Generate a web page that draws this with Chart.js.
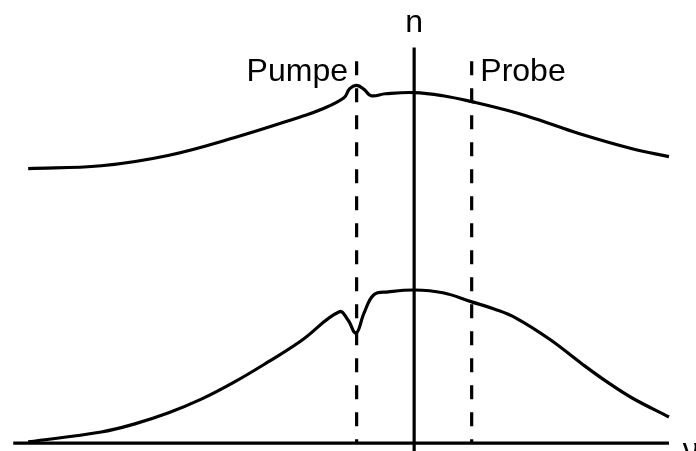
<!DOCTYPE html>
<html>
<head>
<meta charset="utf-8">
<script src="https://cdn.jsdelivr.net/npm/chart.js@4/dist/chart.umd.min.js"></script>
<style>
  html, body { margin: 0; padding: 0; background: #fff; }
  #wrap { width: 696px; height: 451px; position: relative; }
</style>
</head>
<body>
<div id="wrap"><canvas id="sketch"></canvas></div>
<script>
  // detuning (pump at -1, probe at +1) and arbitrary vertical units, axis at 0
  var upperX = [-6.71, -5.44, -4.28, -3.13, -1.97, -1.62, -1.22, -1.12, -1.00, -0.87, -0.75, -0.50, 0, 0.50, 1.00, 1.77, 2.35, 2.92, 3.79, 4.43];
  var upperY = [6.94, 7.01, 7.27, 7.72, 8.25, 8.43, 8.73, 8.96, 9.04, 8.94, 8.78, 8.83, 8.86, 8.78, 8.63, 8.35, 8.08, 7.80, 7.44, 7.24];

  var lowerX = [-6.71, -5.44, -4.87, -4.28, -3.70, -3.13, -2.54, -1.97, -1.30, -1.15, -1.01, -0.87, -0.70, -0.45, 0, 0.50, 1.00, 1.39, 1.77, 2.35, 2.92, 3.36, 3.79, 4.43];
  var lowerY = [0.03, 0.28, 0.48, 0.76, 1.11, 1.54, 2.05, 2.58, 3.32, 3.11, 2.78, 3.29, 3.75, 3.82, 3.87, 3.80, 3.57, 3.39, 3.16, 2.63, 2.00, 1.54, 1.14, 0.66];

  var pumpAt = -1;
  var probeAt = 1;
  var markerTop = 9.65;
  var axisLeft = -6.97;
  var axisRight = 4.43;
  var axisTop = 10.0;

  var labels = [
    { text: 'n', x: 0, y: 10.4, align: 'center' },
    { text: 'Pumpe', x: -1.15, y: 9.14, align: 'right' },
    { text: 'Probe', x: 1.15, y: 9.14, align: 'left' },
    { text: 'ν', x: 4.67, y: -0.43, align: 'left' }
  ];

  function pairs(xs, ys) {
    return xs.map(function (x, i) { return { x: x, y: ys[i] }; });
  }

  function line(data, extra) {
    var ds = {
      data: data,
      borderColor: '#000',
      borderWidth: 3.2,
      pointRadius: 0,
      fill: false,
      tension: 0
    };
    for (var k in extra) ds[k] = extra[k];
    return ds;
  }

  var labelPlugin = {
    id: 'textLabels',
    afterDatasetsDraw: function (chart) {
      var ctx = chart.ctx;
      var sx = chart.scales.x, sy = chart.scales.y;
      ctx.save();
      ctx.fillStyle = '#000';
      ctx.font = '32px "Liberation Sans", Arial, sans-serif';
      ctx.textBaseline = 'alphabetic';
      labels.forEach(function (l) {
        ctx.textAlign = l.align;
        ctx.fillText(l.text, sx.getPixelForValue(l.x), sy.getPixelForValue(l.y));
      });
      ctx.restore();
    }
  };

  new Chart(document.getElementById('sketch'), {
    type: 'line',
    data: {
      datasets: [
        line([{ x: axisLeft, y: 0 }, { x: axisRight, y: 0 }]),
        line([{ x: 0, y: -0.2 }, { x: 0, y: axisTop }]),
        line([{ x: pumpAt, y: markerTop }, { x: pumpAt, y: 0 }], { borderDash: [14, 13] }),
        line([{ x: probeAt, y: markerTop }, { x: probeAt, y: 0 }], { borderDash: [14, 13] }),
        line(pairs(upperX, upperY), { tension: 0.4 }),
        line(pairs(lowerX, lowerY), { tension: 0.4 })
      ]
    },
    options: {
      responsive: true,
      maintainAspectRatio: false,
      animation: false,
      layout: { padding: 0 },
      plugins: { legend: { display: false }, tooltip: { enabled: false } },
      scales: {
        x: { type: 'linear', min: -7.2, max: 4.9, display: false },
        y: { type: 'linear', min: -0.2, max: 11.2, display: false }
      }
    },
    plugins: [labelPlugin]
  });
</script>
</body>
</html>
